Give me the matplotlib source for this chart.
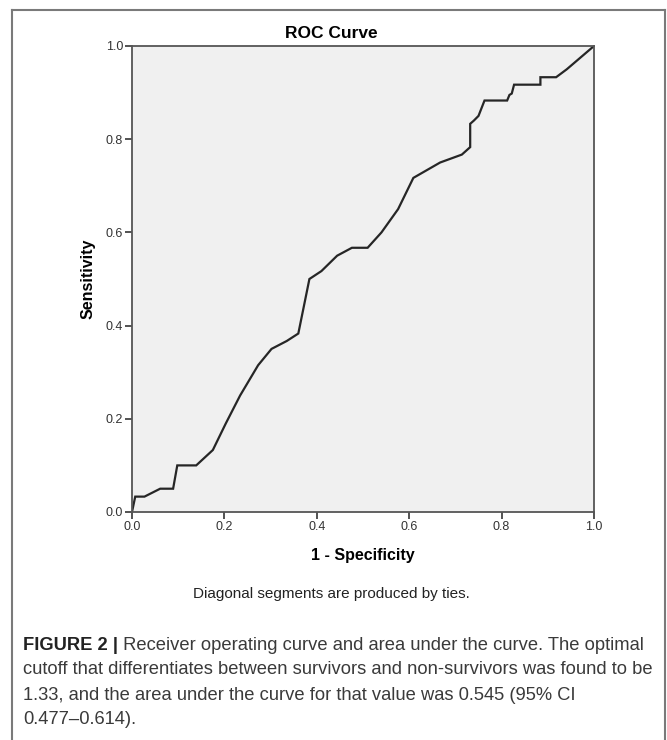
import matplotlib.pyplot as plt
from matplotlib.lines import Line2D
from matplotlib import font_manager

# ROC curve points
fpr = [0.0, 0.007, 0.027, 0.061, 0.089, 0.098, 0.139, 0.175, 0.203, 0.234, 0.273,
       0.302, 0.335, 0.360, 0.384, 0.410, 0.444, 0.476, 0.510, 0.540, 0.576, 0.609,
       0.667, 0.714, 0.732, 0.732, 0.740, 0.750, 0.763, 0.812, 0.817, 0.822, 0.827,
       0.884, 0.884, 0.918, 0.941, 1.0]
tpr = [0.0, 0.033, 0.033, 0.050, 0.050, 0.100, 0.100, 0.133, 0.190, 0.250, 0.315,
       0.350, 0.367, 0.383, 0.500, 0.517, 0.550, 0.567, 0.567, 0.600, 0.650, 0.717,
       0.750, 0.767, 0.783, 0.833, 0.840, 0.850, 0.883, 0.883, 0.895, 0.898, 0.917,
       0.917, 0.933, 0.933, 0.950, 1.0]
ticks = [0.0, 0.2, 0.4, 0.6, 0.8, 1.0]
tick_labels = ["0.0", "0.2", "0.4", "0.6", "0.8", "1.0"]

caption_bold = "FIGURE 2 |"
caption_lines = [
    " Receiver operating curve and area under the curve. The optimal",
    "cutoff that differentiates between survivors and non-survivors was found to be",
    "1.33, and the area under the curve for that value was 0.545 (95% CI",
    "0.477\u20130.614).",
]

W, H = 667, 740
fig = plt.figure(figsize=(W / 100, H / 100), dpi=100)
plt.rcParams['font.family'] = ['Liberation Sans', 'DejaVu Sans']

# pick a narrow face for the footnote/caption if one is there
names = {f.name for f in font_manager.fontManager.ttflist}
narrow = [n for n in ['Liberation Sans Narrow', 'DejaVu Sans Condensed'] if n in names]
if narrow:
    cap_fam, foot_fs, cap_fs = [narrow[0], 'Liberation Sans'], 11.5, 13.5
else:
    cap_fam, foot_fs, cap_fs = ['Liberation Sans'], 11.0, 13.2

# outer frame (left, top, right)
frame_c = '#7a7a7a'
fig.add_artist(Line2D([12 / W, 12 / W], [0, 1 - 10 / H], color=frame_c, lw=1.5))
fig.add_artist(Line2D([12 / W, 665 / W], [1 - 10 / H, 1 - 10 / H], color=frame_c, lw=1.5))
fig.add_artist(Line2D([665 / W, 665 / W], [0, 1 - 10 / H], color=frame_c, lw=1.5))

ax_l, ax_r, ax_t, ax_b = 132, 594, 46, 512
ax = fig.add_axes([ax_l / W, 1 - ax_b / H, (ax_r - ax_l) / W, (ax_b - ax_t) / H])
ax.set_facecolor('#f0f0f0')
ax.plot(fpr, tpr, color='#262626', lw=1.6, solid_joinstyle='miter')
ax.set_xlim(0, 1)
ax.set_ylim(0, 1)
ax.set_xticks(ticks)
ax.set_xticklabels(tick_labels)
ax.set_yticks(ticks)
ax.set_yticklabels(tick_labels)
for s in ax.spines.values():
    s.set_color('#555555')
    s.set_linewidth(1.3)
ax.tick_params(direction='out', length=5, width=1.3, color='#444444',
               labelsize=9, labelcolor='#333333', pad=1.5)
ax.set_xlabel("1 - Specificity", fontsize=11.5, fontweight='bold', labelpad=11)
ax.set_ylabel("Sensitivity", fontsize=11.5, fontweight='bold', labelpad=7)

fig.text(0.497, 1 - 33 / H, "ROC Curve", ha='center', va='center',
         fontsize=12.5, fontweight='bold')
fig.text(0.497, 1 - 594 / H, "Diagonal segments are produced by ties.",
         ha='center', va='center', fontsize=foot_fs, family=cap_fam, color='#222222')

cap_x = 23 / W
y0 = 645
t = fig.text(cap_x, 1 - y0 / H, caption_bold, ha='left', va='center',
             fontsize=cap_fs, fontweight='bold', color='#222222', family=cap_fam)
fig.canvas.draw()
bb = t.get_window_extent()
fig.text(bb.x1 / W, 1 - y0 / H, caption_lines[0], ha='left', va='center',
         fontsize=cap_fs, color='#3a3a3a', family=cap_fam)
for i, line in enumerate(caption_lines[1:], start=1):
    fig.text(cap_x, 1 - (y0 + 25 * i) / H, line, ha='left', va='center',
             fontsize=cap_fs, color='#3a3a3a', family=cap_fam)

fig.savefig("out.png", dpi=100)
